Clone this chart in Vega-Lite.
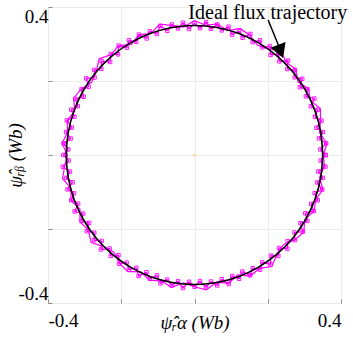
{
  "$schema": "https://vega.github.io/schema/vega-lite/v6.json",
  "width": 293,
  "height": 296,
  "autosize": {"type": "none"},
  "padding": {"left": 48, "top": 7, "right": 12, "bottom": 36},
  "background": "white",
  "config": {
    "view": {"stroke": "#8c8c8c", "strokeWidth": 1}
  },
  "datasets": {
    "traj": [
      {"i":0,"x":0.358,"y":0},{"i":1,"x":0.3437,"y":0.015},{"i":2,"x":0.3596,"y":0.0315},{"i":3,"x":0.34,"y":0.0448},
      {"i":4,"x":0.3506,"y":0.0618},{"i":5,"x":0.3329,"y":0.0738},{"i":6,"x":0.3468,"y":0.0929},{"i":7,"x":0.329,"y":0.1037},
      {"i":8,"x":0.3364,"y":0.1224},{"i":9,"x":0.3178,"y":0.1316},{"i":10,"x":0.3272,"y":0.1526},{"i":11,"x":0.3042,"y":0.1584},
      {"i":12,"x":0.3083,"y":0.178},{"i":13,"x":0.2876,"y":0.1832},{"i":14,"x":0.2941,"y":0.2059},{"i":15,"x":0.2737,"y":0.21},
      {"i":16,"x":0.2742,"y":0.2301},{"i":17,"x":0.2536,"y":0.2324},{"i":18,"x":0.2553,"y":0.2553},{"i":19,"x":0.2317,"y":0.2529},
      {"i":20,"x":0.2288,"y":0.2727},{"i":21,"x":0.2076,"y":0.2706},{"i":22,"x":0.2059,"y":0.2941},{"i":23,"x":0.1854,"y":0.291},
      {"i":24,"x":0.179,"y":0.31},{"i":25,"x":0.1588,"y":0.3051},{"i":26,"x":0.1526,"y":0.3272},{"i":27,"x":0.1313,"y":0.3169},
      {"i":28,"x":0.1218,"y":0.3345},{"i":29,"x":0.1025,"y":0.3252},{"i":30,"x":0.0929,"y":0.3468},{"i":31,"x":0.0747,"y":0.3368},
      {"i":32,"x":0.0621,"y":0.3526},{"i":33,"x":0.0449,"y":0.341},{"i":34,"x":0.0315,"y":0.3596},{"i":35,"x":0.015,"y":0.3427},
      {"i":36,"x":0,"y":0.356},{"i":37,"x":-0.0149,"y":0.3407},{"i":38,"x":-0.0313,"y":0.3576},{"i":39,"x":-0.045,"y":0.342},
      {"i":40,"x":-0.0621,"y":0.3526},{"i":41,"x":-0.0744,"y":0.3358},{"i":42,"x":-0.0934,"y":0.3487},{"i":43,"x":-0.1031,"y":0.3271},
      {"i":44,"x":-0.1218,"y":0.3345},{"i":45,"x":-0.1305,"y":0.315},{"i":46,"x":-0.1517,"y":0.3254},{"i":47,"x":-0.1593,"y":0.306},
      {"i":48,"x":-0.179,"y":0.31},{"i":49,"x":-0.1848,"y":0.2901},{"i":50,"x":-0.2071,"y":0.2957},{"i":51,"x":-0.2088,"y":0.2721},
      {"i":52,"x":-0.2288,"y":0.2727},{"i":53,"x":-0.2304,"y":0.2514},{"i":54,"x":-0.2538,"y":0.2538},{"i":55,"x":-0.2544,"y":0.2331},
      {"i":56,"x":-0.2742,"y":0.2301},{"i":57,"x":-0.2729,"y":0.2094},{"i":58,"x":-0.2957,"y":0.2071},{"i":59,"x":-0.2893,"y":0.1843},
      {"i":60,"x":-0.3083,"y":0.178},{"i":61,"x":-0.3025,"y":0.1574},{"i":62,"x":-0.3254,"y":0.1517},{"i":63,"x":-0.3187,"y":0.132},
      {"i":64,"x":-0.3364,"y":0.1224},{"i":65,"x":-0.3281,"y":0.1034},{"i":66,"x":-0.3487,"y":0.0934},{"i":67,"x":-0.3349,"y":0.0742},
      {"i":68,"x":-0.3506,"y":0.0618},{"i":69,"x":-0.3381,"y":0.0445},{"i":70,"x":-0.3576,"y":0.0313},{"i":71,"x":-0.3447,"y":0.015},
      {"i":72,"x":-0.358,"y":0},{"i":73,"x":-0.3437,"y":-0.015},{"i":74,"x":-0.3596,"y":-0.0315},{"i":75,"x":-0.34,"y":-0.0448},
      {"i":76,"x":-0.3506,"y":-0.0618},{"i":77,"x":-0.3329,"y":-0.0738},{"i":78,"x":-0.3468,"y":-0.0929},{"i":79,"x":-0.329,"y":-0.1037},
      {"i":80,"x":-0.3364,"y":-0.1224},{"i":81,"x":-0.3178,"y":-0.1316},{"i":82,"x":-0.3272,"y":-0.1526},{"i":83,"x":-0.3042,"y":-0.1584},
      {"i":84,"x":-0.3083,"y":-0.178},{"i":85,"x":-0.2876,"y":-0.1832},{"i":86,"x":-0.2941,"y":-0.2059},{"i":87,"x":-0.2737,"y":-0.21},
      {"i":88,"x":-0.2742,"y":-0.2301},{"i":89,"x":-0.2536,"y":-0.2324},{"i":90,"x":-0.2553,"y":-0.2553},{"i":91,"x":-0.2317,"y":-0.2529},
      {"i":92,"x":-0.2288,"y":-0.2727},{"i":93,"x":-0.2076,"y":-0.2706},{"i":94,"x":-0.2059,"y":-0.2941},{"i":95,"x":-0.1854,"y":-0.291},
      {"i":96,"x":-0.179,"y":-0.31},{"i":97,"x":-0.1588,"y":-0.3051},{"i":98,"x":-0.1526,"y":-0.3272},{"i":99,"x":-0.1313,"y":-0.3169},
      {"i":100,"x":-0.1218,"y":-0.3345},{"i":101,"x":-0.1025,"y":-0.3252},{"i":102,"x":-0.0929,"y":-0.3468},{"i":103,"x":-0.0747,"y":-0.3368},
      {"i":104,"x":-0.0621,"y":-0.3526},{"i":105,"x":-0.0449,"y":-0.341},{"i":106,"x":-0.0315,"y":-0.3596},{"i":107,"x":-0.015,"y":-0.3427},
      {"i":108,"x":0,"y":-0.356},{"i":109,"x":0.0149,"y":-0.3407},{"i":110,"x":0.0313,"y":-0.3576},{"i":111,"x":0.045,"y":-0.342},
      {"i":112,"x":0.0621,"y":-0.3526},{"i":113,"x":0.0744,"y":-0.3358},{"i":114,"x":0.0934,"y":-0.3487},{"i":115,"x":0.1031,"y":-0.3271},
      {"i":116,"x":0.1218,"y":-0.3345},{"i":117,"x":0.1305,"y":-0.315},{"i":118,"x":0.1517,"y":-0.3254},{"i":119,"x":0.1593,"y":-0.306},
      {"i":120,"x":0.179,"y":-0.31},{"i":121,"x":0.1848,"y":-0.2901},{"i":122,"x":0.2071,"y":-0.2957},{"i":123,"x":0.2088,"y":-0.2721},
      {"i":124,"x":0.2288,"y":-0.2727},{"i":125,"x":0.2304,"y":-0.2514},{"i":126,"x":0.2538,"y":-0.2538},{"i":127,"x":0.2544,"y":-0.2331},
      {"i":128,"x":0.2742,"y":-0.2301},{"i":129,"x":0.2729,"y":-0.2094},{"i":130,"x":0.2957,"y":-0.2071},{"i":131,"x":0.2893,"y":-0.1843},
      {"i":132,"x":0.3083,"y":-0.178},{"i":133,"x":0.3025,"y":-0.1574},{"i":134,"x":0.3254,"y":-0.1517},{"i":135,"x":0.3187,"y":-0.132},
      {"i":136,"x":0.3364,"y":-0.1224},{"i":137,"x":0.3281,"y":-0.1034},{"i":138,"x":0.3487,"y":-0.0934},{"i":139,"x":0.3349,"y":-0.0742},
      {"i":140,"x":0.3506,"y":-0.0618},{"i":141,"x":0.3381,"y":-0.0445},{"i":142,"x":0.3576,"y":-0.0313},{"i":143,"x":0.3447,"y":-0.015},
      {"i":144,"x":0.358,"y":0}
    ],
    "traj2": [
      {"i":0,"x":0.352,"y":0},{"i":1,"x":0.3616,"y":0.0317},{"i":2,"x":0.3417,"y":0.0602},{"i":3,"x":0.3439,"y":0.0921},
      {"i":4,"x":0.3439,"y":0.1252},{"i":5,"x":0.3163,"y":0.1475},{"i":6,"x":0.3109,"y":0.1795},{"i":7,"x":0.2826,"y":0.1979},
      {"i":8,"x":0.2765,"y":0.2321},{"i":9,"x":0.2503,"y":0.2503},{"i":10,"x":0.2366,"y":0.2819},{"i":11,"x":0.2008,"y":0.2867},
      {"i":12,"x":0.1715,"y":0.297},{"i":13,"x":0.1509,"y":0.3236},{"i":14,"x":0.1245,"y":0.3421},{"i":15,"x":0.0901,"y":0.3361},
      {"i":16,"x":0.0625,"y":0.3545},{"i":17,"x":0.0307,"y":0.3507},{"i":18,"x":0,"y":0.363},{"i":19,"x":-0.0303,"y":0.3457},
      {"i":20,"x":-0.0618,"y":0.3506},{"i":21,"x":-0.0947,"y":0.3535},{"i":22,"x":-0.1194,"y":0.328},{"i":23,"x":-0.1517,"y":0.3254},
      {"i":24,"x":-0.1725,"y":0.2988},{"i":25,"x":-0.2071,"y":0.2957},{"i":26,"x":-0.2276,"y":0.2712},{"i":27,"x":-0.2602,"y":0.2602},
      {"i":28,"x":-0.2681,"y":0.225},{"i":29,"x":-0.281,"y":0.1967},{"i":30,"x":-0.3092,"y":0.1785},{"i":31,"x":-0.3299,"y":0.1538},
      {"i":32,"x":-0.327,"y":0.119},{"i":33,"x":-0.3477,"y":0.0932},{"i":34,"x":-0.3466,"y":0.0611},{"i":35,"x":-0.3616,"y":0.0317},
      {"i":36,"x":-0.347,"y":0},{"i":37,"x":-0.3546,"y":-0.031},{"i":38,"x":-0.3604,"y":-0.0635},{"i":39,"x":-0.3371,"y":-0.0903},
      {"i":40,"x":-0.3374,"y":-0.1228},{"i":41,"x":-0.3127,"y":-0.1458},{"i":42,"x":-0.3126,"y":-0.1805},{"i":43,"x":-0.29,"y":-0.2031},
      {"i":44,"x":-0.2819,"y":-0.2366},{"i":45,"x":-0.2475,"y":-0.2475},{"i":46,"x":-0.2205,"y":-0.2627},{"i":47,"x":-0.2048,"y":-0.2925},
      {"i":48,"x":-0.182,"y":-0.3152},{"i":49,"x":-0.1471,"y":-0.3154},{"i":50,"x":-0.1231,"y":-0.3383},{"i":51,"x":-0.0911,"y":-0.34},
      {"i":52,"x":-0.063,"y":-0.3575},{"i":53,"x":-0.0303,"y":-0.3457},{"i":54,"x":0,"y":-0.356},{"i":55,"x":0.0319,"y":-0.3646},
      {"i":56,"x":0.0606,"y":-0.3437},{"i":57,"x":0.0929,"y":-0.3468},{"i":58,"x":0.118,"y":-0.3242},{"i":59,"x":0.1526,"y":-0.3272},
      {"i":60,"x":0.177,"y":-0.3066},{"i":61,"x":0.2111,"y":-0.3015},{"i":62,"x":0.225,"y":-0.2681},{"i":63,"x":0.2425,"y":-0.2425},
      {"i":64,"x":0.2735,"y":-0.2295},{"i":65,"x":0.2982,"y":-0.2088},{"i":66,"x":0.3014,"y":-0.174},{"i":67,"x":0.3263,"y":-0.1521},
      {"i":68,"x":0.3308,"y":-0.1204},{"i":69,"x":0.3506,"y":-0.0939},{"i":70,"x":0.3417,"y":-0.0602},{"i":71,"x":0.3546,"y":-0.031},
      {"i":72,"x":0.352,"y":0}
    ],
    "ideal": [
      {"i":0,"x":0.35,"y":0},{"i":1,"x":0.3447,"y":0.0608},{"i":2,"x":0.3289,"y":0.1197},{"i":3,"x":0.3031,"y":0.175},
      {"i":4,"x":0.2681,"y":0.225},{"i":5,"x":0.225,"y":0.2681},{"i":6,"x":0.175,"y":0.3031},{"i":7,"x":0.1197,"y":0.3289},
      {"i":8,"x":0.0608,"y":0.3447},{"i":9,"x":0,"y":0.35},{"i":10,"x":-0.0608,"y":0.3447},{"i":11,"x":-0.1197,"y":0.3289},
      {"i":12,"x":-0.175,"y":0.3031},{"i":13,"x":-0.225,"y":0.2681},{"i":14,"x":-0.2681,"y":0.225},{"i":15,"x":-0.3031,"y":0.175},
      {"i":16,"x":-0.3289,"y":0.1197},{"i":17,"x":-0.3447,"y":0.0608},{"i":18,"x":-0.35,"y":0},{"i":19,"x":-0.3447,"y":-0.0608},
      {"i":20,"x":-0.3289,"y":-0.1197},{"i":21,"x":-0.3031,"y":-0.175},{"i":22,"x":-0.2681,"y":-0.225},{"i":23,"x":-0.225,"y":-0.2681},
      {"i":24,"x":-0.175,"y":-0.3031},{"i":25,"x":-0.1197,"y":-0.3289},{"i":26,"x":-0.0608,"y":-0.3447},{"i":27,"x":0,"y":-0.35},
      {"i":28,"x":0.0608,"y":-0.3447},{"i":29,"x":0.1197,"y":-0.3289},{"i":30,"x":0.175,"y":-0.3031},{"i":31,"x":0.225,"y":-0.2681},
      {"i":32,"x":0.2681,"y":-0.225},{"i":33,"x":0.3031,"y":-0.175},{"i":34,"x":0.3289,"y":-0.1197},{"i":35,"x":0.3447,"y":-0.0608},
      {"i":36,"x":0.35,"y":0}
    ],
    "note": [{"x":0.2,"y":0.384,"text":"Ideal flux trajectory"}],
    "arrow": [{"x":0.201,"y":0.365,"x2":0.232,"y2":0.29}],
    "head": [{"x":0.235,"y":0.28}],
    "origin": [{"x":0,"y":0}]
  },
  "layer": [
    {
      "data": {"name": "traj"},
      "mark": {"type": "line", "color": "#ff00ff", "strokeWidth": 1.2, "clip": true},
      "encoding": {
        "x": {"field": "x", "type": "quantitative",
              "scale": {"domain": [-0.4, 0.4], "nice": false, "zero": false},
              "axis": {"values": [-0.4,-0.3,-0.2,-0.1,0,0.1,0.2,0.3,0.4],
                       "labelExpr": "datum.value < -0.39 ? '-0.4' : (datum.value > 0.39 ? '0.4' : '')",
                       "grid": true, "gridColor": "#ebebeb", "gridWidth": 1,
                       "domain": false, "ticks": true, "tickSize": -4, "tickColor": "#8c8c8c",
                       "labelFont": "Liberation Serif", "labelFontSize": 19, "labelColor": "#000000",
                       "labelPadding": 12,
                       "title": "ψ̂ᵣα (Wb)",
                       "titleFont": "Liberation Serif", "titleFontSize": 19, "titleFontWeight": "normal",
                       "titleFontStyle": "italic", "titleColor": "#000000",
                       "titleY": 19, "titleBaseline": "middle"}},
        "y": {"field": "y", "type": "quantitative",
              "scale": {"domain": [-0.4, 0.4], "nice": false, "zero": false},
              "axis": {"values": [-0.4,-0.3,-0.2,-0.1,0,0.1,0.2,0.3,0.4],
                       "labelExpr": "datum.value < -0.39 ? '-0.4' : (datum.value > 0.39 ? '0.4' : '')",
                       "grid": true, "gridColor": "#ebebeb", "gridWidth": 1,
                       "domain": false, "ticks": true, "tickSize": -4, "tickColor": "#8c8c8c",
                       "labelFont": "Liberation Serif", "labelFontSize": 19, "labelColor": "#000000",
                       "labelPadding": 4, "labelFlush": true,
                       "title": "ψ̂ᵣᵦ (Wb)",
                       "titleFont": "Liberation Serif", "titleFontSize": 19, "titleFontWeight": "normal",
                       "titleFontStyle": "italic", "titleColor": "#000000",
                       "titleX": -33, "titleBaseline": "middle"}},
        "order": {"field": "i", "type": "quantitative"}
      }
    },
    {
      "data": {"name": "traj2"},
      "mark": {"type": "line", "color": "#ff00ff", "strokeWidth": 1.2, "clip": true},
      "encoding": {
        "x": {"field": "x", "type": "quantitative"},
        "y": {"field": "y", "type": "quantitative"},
        "order": {"field": "i", "type": "quantitative"}
      }
    },
    {
      "data": {"name": "traj"},
      "mark": {"type": "point", "shape": "square", "filled": false, "color": "#ff00ff", "strokeWidth": 1, "size": 12, "opacity": 0.9, "clip": true},
      "encoding": {
        "x": {"field": "x", "type": "quantitative"},
        "y": {"field": "y", "type": "quantitative"}
      }
    },
    {
      "data": {"name": "ideal"},
      "mark": {"type": "line", "color": "#000000", "strokeWidth": 1.6, "interpolate": "cardinal"},
      "encoding": {
        "x": {"field": "x", "type": "quantitative"},
        "y": {"field": "y", "type": "quantitative"},
        "order": {"field": "i", "type": "quantitative"}
      }
    },
    {
      "data": {"name": "origin"},
      "mark": {"type": "point", "filled": true, "color": "#f7d08a", "size": 10},
      "encoding": {
        "x": {"field": "x", "type": "quantitative"},
        "y": {"field": "y", "type": "quantitative"}
      }
    },
    {
      "data": {"name": "arrow"},
      "mark": {"type": "rule", "color": "#000000", "strokeWidth": 1.5},
      "encoding": {
        "x": {"field": "x", "type": "quantitative"},
        "y": {"field": "y", "type": "quantitative"},
        "x2": {"field": "x2"},
        "y2": {"field": "y2"}
      }
    },
    {
      "data": {"name": "head"},
      "mark": {"type": "point", "shape": "triangle-down", "filled": true, "color": "#000000", "opacity": 1, "size": 260, "angle": 338.5},
      "encoding": {
        "x": {"field": "x", "type": "quantitative"},
        "y": {"field": "y", "type": "quantitative"}
      }
    },
    {
      "data": {"name": "note"},
      "mark": {"type": "text", "font": "Liberation Serif", "fontSize": 20, "color": "#000000", "align": "center", "baseline": "middle"},
      "encoding": {
        "x": {"field": "x", "type": "quantitative"},
        "y": {"field": "y", "type": "quantitative"},
        "text": {"field": "text"}
      }
    }
  ]
}
